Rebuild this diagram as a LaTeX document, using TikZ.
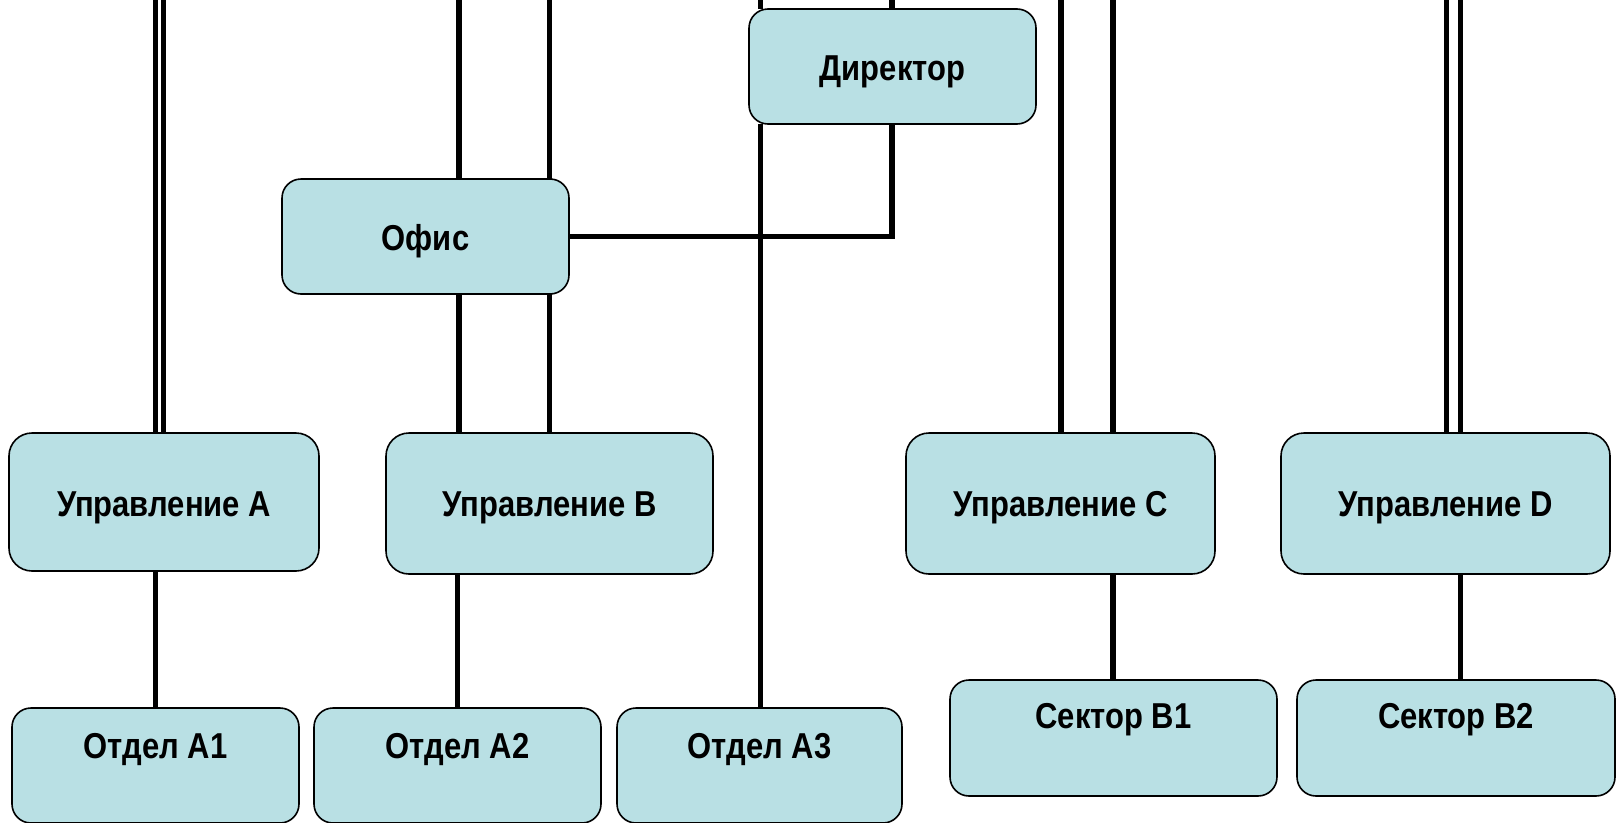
\documentclass[tikz,border=0pt]{standalone}
\usepackage{fontspec}
\newfontfamily\boxfont{Liberation Sans}[FakeStretch=0.86]
\definecolor{boxfill}{RGB}{185,224,228}
\tikzset{
  orgbox/.style={draw=black, line width=1.6pt, fill=boxfill, rounded corners=19pt,
    inner sep=0pt, outer sep=0pt, anchor=north west, align=center,
    font=\boxfont\bfseries\fontsize{36}{40}\selectfont},
  bigbox/.style={orgbox, rounded corners=23pt},
  conn/.style={draw=black, line width=5.5pt}
}
\begin{document}
\begin{tikzpicture}[x=1pt,y=-1pt]
\useasboundingbox (0,0) rectangle (1616,822);
% boxes
\node[orgbox, minimum width=287pt, text height=71pt, text depth=44pt] (Dir) at (749,9) {Директор};
\node[orgbox, minimum width=287pt, text height=71pt, text depth=44pt] (Office) at (282,179) {Офис};
\node[bigbox, minimum width=310pt, text height=83pt, text depth=55pt] (UA) at (9,433) {Управление A};
\node[bigbox, minimum width=327pt, text height=83pt, text depth=58pt] (UB) at (386,433) {Управление B};
\node[bigbox, minimum width=309pt, text height=83pt, text depth=58pt] (UC) at (906,433) {Управление C};
\node[bigbox, minimum width=329pt, text height=83pt, text depth=58pt] (UD) at (1281,433) {Управление D};
\node[orgbox, minimum width=287pt, text height=50pt, text depth=65pt] (A1) at (12,708) {Отдел A1};
\node[orgbox, minimum width=287pt, text height=50pt, text depth=65pt] (A2) at (314,708) {Отдел A2};
\node[orgbox, minimum width=285pt, text height=50pt, text depth=65pt] (A3) at (617,708) {Отдел A3};
\node[orgbox, minimum width=327pt, text height=48pt, text depth=68pt] (B1) at (950,680) {Сектор B1};
\node[orgbox, minimum width=318pt, text height=48pt, text depth=68pt] (B2) at (1297,680) {Сектор B2};
% free ends at the top edge
\coordinate (tL1) at (155.3,0);
\coordinate (tL2) at (163.3,0);
\coordinate (tB1) at (459,0);
\coordinate (tB2) at (549.7,0);
\coordinate (tD1) at (760.3,0);
\coordinate (tD2) at (892,0);
\coordinate (tC1) at (1061,0);
\coordinate (tC2) at (1113,0);
\coordinate (tR1) at (1446.3,0);
\coordinate (tR2) at (1460.7,0);
% connectors
\draw[conn] (tL1) -- (tL1 |- UA.north);
\draw[conn] (tL2) -- (tL2 |- UA.north);
\draw[conn] (A1.north |- UA.south) -- (A1.north);
\draw[conn] (tB1) -- (tB1 |- Office.north);
\draw[conn] (tB2) -- (tB2 |- Office.north);
\draw[conn] (tB1 |- Office.south) -- (tB1 |- UB.north);
\draw[conn] (tB2 |- Office.south) -- (tB2 |- UB.north);
\draw[conn] (A2.north |- UB.south) -- (A2.north);
\draw[conn] (tD1) -- (tD1 |- Dir.north);
\draw[conn] (tD2) -- (tD2 |- Dir.north);
\draw[conn] (tD1 |- Dir.south) -- (tD1 |- A3.north);
\draw[conn] (tD2 |- Dir.south) |- (Office.east);
\draw[conn] (tC1) -- (tC1 |- UC.north);
\draw[conn] (tC2) -- (tC2 |- UC.north);
\draw[conn] (tC2 |- UC.south) -- (tC2 |- B1.north);
\draw[conn] (tR1) -- (tR1 |- UD.north);
\draw[conn] (tR2) -- (tR2 |- UD.north);
\draw[conn] (tR2 |- UD.south) -- (tR2 |- B2.north);
\end{tikzpicture}
\end{document}
